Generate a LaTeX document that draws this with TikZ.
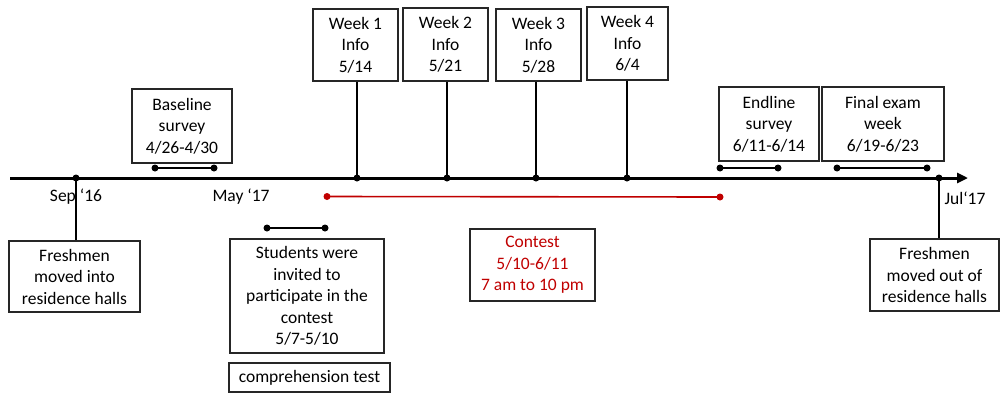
\documentclass[tikz,border=0pt]{standalone}
\usepackage{fontspec}
\setmainfont{Carlito}
\usetikzlibrary{arrows.meta}
\definecolor{cred}{RGB}{192,0,0}
\begin{document}
\begin{tikzpicture}[x=1pt,y=-1pt,
  box/.style={draw=black!85, line width=1.2pt, align=center, inner sep=0pt,
    font=\fontsize{17.5}{21.5}\selectfont},
  lbl/.style={inner sep=0pt, font=\fontsize{17.5}{21.5}\selectfont},
  conn/.style={line width=2pt},
  seg/.style={line width=2pt},
  dot/.style={fill=black}]
\useasboundingbox (0,0) rectangle (1000,394);
% axis
\coordinate (a0) at (10,178);
\coordinate (a1) at (968,178);
\draw[line width=3pt, -{Triangle[length=11pt,width=10pt]}] (a0) -- (a1);
% axis dots
\coordinate (dsep) at (76,178);
\coordinate (dw1) at (357,178);
\coordinate (dw2) at (447,178);
\coordinate (dw3) at (536,178);
\coordinate (dw4) at (627,178);
\coordinate (djul) at (939,178);
% boxes
\node[box, minimum width=131pt, minimum height=71pt] (fr1) at (74.5,276.5) {Freshmen\\moved into\\residence halls};
\node[box, minimum width=100pt, minimum height=74pt] (base) at (182,126) {Baseline\\survey\\4/26-4/30};
\node[box, minimum width=85pt, minimum height=72pt] (w1) at (355.5,45) {Week 1\\Info\\5/14};
\node[box, minimum width=85pt, minimum height=73pt] (w2) at (445.5,44.5) {Week 2\\Info\\5/21};
\node[box, minimum width=85pt, minimum height=72pt] (w3) at (538.5,45) {Week 3\\Info\\5/28};
\node[box, minimum width=81pt, minimum height=73pt] (w4) at (627.5,43.5) {Week 4\\Info\\6/4};
\node[box, minimum width=100pt, minimum height=74pt] (end) at (769,124) {Endline\\survey\\6/11-6/14};
\node[box, minimum width=122pt, minimum height=74pt] (fin) at (883,124) {Final exam\\week\\6/19-6/23};
\node[box, minimum width=129pt, minimum height=72pt] (fr2) at (934.5,275) {Freshmen\\moved out of\\residence halls};
\node[box, minimum width=154pt, minimum height=114pt] (stu) at (307,296) {Students were\\invited to\\participate in the\\contest\\5/7-5/10};
\node[box, minimum width=161pt, minimum height=29pt] (comp) at (309.5,377.5) {comprehension test};
\node[box, minimum width=125pt, minimum height=72pt, text=cred] (con) at (532.5,265) {Contest\\5/10-6/11\\7 am to 10 pm};
% axis labels
\node[lbl] (lsep) at (76,197) {Sep ‘16};
\node[lbl] (lmay) at (241,197) {May ‘17};
\node[lbl] (ljul) at (965,198) {Jul‘17};
% connectors
\draw[conn] (dsep) -- (dsep |- fr1.north);
\draw[conn] (dw1 |- w1.south) -- (dw1);
\draw[conn] (dw2 |- w2.south) -- (dw2);
\draw[conn] (dw3 |- w3.south) -- (dw3);
\draw[conn] (dw4 |- w4.south) -- (dw4);
\draw[conn] (djul) -- (djul |- fr2.north);
\foreach \p in {dsep,dw1,dw2,dw3,dw4,djul} \fill (\p) circle (3.5pt);
% interval segments
\coordinate (b1) at (155,168); \coordinate (b2) at (214,168);
\coordinate (e1) at (720,168); \coordinate (e2) at (778,168);
\coordinate (f1) at (837,168); \coordinate (f2) at (927,168);
\coordinate (s1) at (267,228); \coordinate (s2) at (325,228);
\draw[seg] (b1) -- (b2);
\draw[seg] (e1) -- (e2);
\draw[seg] (f1) -- (f2);
\draw[seg] (s1) -- (s2);
\foreach \p in {b1,b2,e1,e2,f1,f2,s1,s2} \fill (\p) circle (3.5pt);
% contest line
\coordinate (c1) at (327,196.5); \coordinate (c2) at (720,197);
\draw[cred, line width=1.6pt] (c1) -- (c2);
\fill[cred] (c1) circle (3.5pt);
\fill[cred] (c2) circle (3.5pt);
\end{tikzpicture}
\end{document}
